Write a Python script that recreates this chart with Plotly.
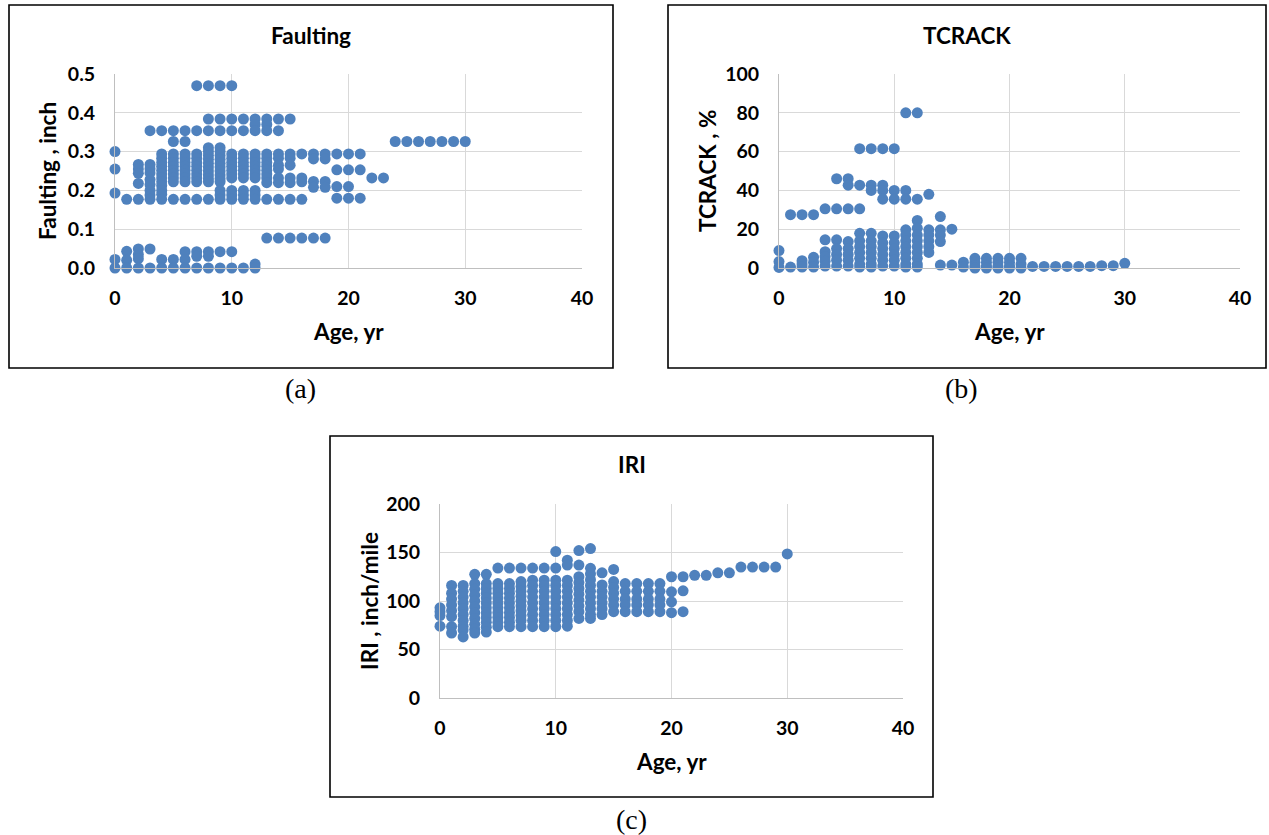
import plotly.graph_objects as go

W, H = 1269, 835

# ---------------- DATA ----------------
# each row: (age in years, list of observed values at that age)
faulting_rows = [
    (0, [0.30, 0.255, 0.193, 0.022, 0.0]),
    (1, [0.177, 0.043, 0.02, 0.0]),
    (2, [0.267, 0.255, 0.244, 0.218, 0.177, 0.049, 0.035, 0.024, 0.0]),
    (3, [0.354, 0.267, 0.256, 0.245, 0.228, 0.215, 0.20, 0.188, 0.177, 0.049, 0.0]),
    (4, [0.354, 0.294, 0.283, 0.272, 0.262, 0.252, 0.242, 0.232, 0.222, 0.212, 0.20, 0.19, 0.177, 0.022, 0.0]),
    (5, [0.354, 0.326, 0.294, 0.283, 0.272, 0.262, 0.252, 0.242, 0.232, 0.222, 0.177, 0.022, 0.0]),
    (6, [0.354, 0.326, 0.294, 0.283, 0.272, 0.262, 0.252, 0.242, 0.232, 0.222, 0.177, 0.042, 0.022, 0.0]),
    (7, [0.47, 0.354, 0.294, 0.283, 0.272, 0.262, 0.252, 0.242, 0.232, 0.222, 0.177, 0.042, 0.03, 0.0]),
    (8, [0.47, 0.384, 0.354, 0.31, 0.30, 0.29, 0.28, 0.27, 0.26, 0.25, 0.24, 0.23, 0.222, 0.177, 0.042, 0.03, 0.0]),
    (9, [0.47, 0.384, 0.354, 0.31, 0.30, 0.29, 0.28, 0.27, 0.26, 0.25, 0.24, 0.23, 0.222, 0.20, 0.188, 0.177, 0.042, 0.0]),
    (10, [0.47, 0.384, 0.354, 0.294, 0.283, 0.272, 0.262, 0.252, 0.242, 0.232, 0.20, 0.188, 0.177, 0.042, 0.0]),
    (11, [0.384, 0.354, 0.294, 0.283, 0.272, 0.262, 0.252, 0.242, 0.232, 0.20, 0.188, 0.177, 0.0]),
    (12, [0.384, 0.37, 0.354, 0.294, 0.283, 0.272, 0.262, 0.252, 0.242, 0.232, 0.20, 0.188, 0.177, 0.01, 0.0]),
    (13, [0.384, 0.37, 0.354, 0.294, 0.283, 0.272, 0.262, 0.252, 0.242, 0.232, 0.22, 0.177, 0.077]),
    (14, [0.384, 0.354, 0.294, 0.283, 0.265, 0.255, 0.232, 0.22, 0.177, 0.077]),
    (15, [0.384, 0.294, 0.283, 0.265, 0.232, 0.22, 0.177, 0.077]),
    (16, [0.294, 0.232, 0.222, 0.177, 0.077]),
    (17, [0.294, 0.281, 0.223, 0.208, 0.077]),
    (18, [0.294, 0.281, 0.223, 0.208, 0.077]),
    (19, [0.294, 0.253, 0.21, 0.18]),
    (20, [0.294, 0.253, 0.21, 0.18]),
    (21, [0.294, 0.253, 0.18]),
    (22, [0.232]),
    (23, [0.232]),
    (24, [0.326]), (25, [0.326]), (26, [0.326]), (27, [0.326]),
    (28, [0.326]), (29, [0.326]), (30, [0.326]),
]

tcrack_rows = [
    (0, [9, 3.3, 0.3]),
    (1, [27.5, 0.5]),
    (2, [27.5, 3.8, 2, 0.5]),
    (3, [27.5, 5.5, 3, 0.5]),
    (4, [30.5, 14.5, 8.4, 5.9, 3.5, 1]),
    (5, [46, 30.5, 14.5, 10, 7, 4, 1]),
    (6, [46, 42.7, 30.5, 13.6, 10, 7, 4, 1]),
    (7, [61.5, 42.7, 30.5, 17.9, 14, 11, 8, 5, 2, 0.5]),
    (8, [61.5, 42.7, 40, 17.9, 14, 11, 8, 5, 2, 0.5]),
    (9, [61.5, 42.7, 40, 35.5, 16.5, 13, 10, 7, 4, 1]),
    (10, [61.5, 40, 35.5, 16.5, 13, 10, 7, 4, 1]),
    (11, [80, 40, 35.5, 19.7, 17, 14, 11, 8, 5, 2, 0.5]),
    (12, [80, 35.5, 24.5, 20.5, 17, 14, 11, 8, 5, 2, 0.5]),
    (13, [38, 19.7, 17, 14, 11, 8]),
    (14, [26.5, 19.7, 17, 13.6, 1.5]),
    (15, [20, 1.5]),
    (16, [3, 0.5]),
    (17, [5, 3, 1, 0]),
    (18, [5, 3, 1, 0]),
    (19, [5, 3, 1, 0]),
    (20, [5, 3, 1, 0]),
    (21, [5, 2, 0]),
    (22, [0.8]), (23, [0.8]), (24, [0.8]), (25, [0.8]), (26, [0.8]), (27, [0.8]),
    (28, [1.2]), (29, [1.2]),
    (30, [2.4]),
]

iri_rows = [
    (0, [93, 89, 85, 74]),
    (1, [116, 108, 102, 96, 90, 84, 73.5, 67]),
    (2, [116, 110, 104, 98, 92, 86, 80, 74, 70, 63]),
    (3, [127.5, 118, 112, 106, 100, 94, 88, 82, 76, 71, 67]),
    (4, [127.5, 118, 113, 108, 103, 98, 93, 88, 83, 78, 73, 68]),
    (5, [134, 118, 113, 108, 103, 98, 93, 88, 83, 78, 73.5]),
    (6, [134, 118, 113, 108, 103, 98, 93, 88, 83, 78, 73.5]),
    (7, [134, 120, 115, 110, 105, 100, 95, 90, 85, 80, 73.5]),
    (8, [134, 121.5, 116, 110, 104, 98, 92, 86, 80, 73.5]),
    (9, [134, 121.5, 116, 110, 104, 98, 92, 86, 80, 73.5]),
    (10, [151, 134, 121.5, 116, 110, 104, 98, 92, 86, 80, 73.5]),
    (11, [142, 137, 121.5, 116, 110, 104, 98, 92, 86, 80, 74]),
    (12, [152, 137, 125, 119, 113, 107, 101, 95, 89, 82]),
    (13, [154, 133.7, 128, 122, 116, 110, 104, 98, 92, 86, 82]),
    (14, [129, 116.5, 110, 104, 98, 92, 86]),
    (15, [132.6, 120, 114, 108, 102, 96, 89]),
    (16, [118, 110, 102, 96, 89]),
    (17, [118, 110, 102, 96, 89]),
    (18, [118, 110, 102, 96, 89]),
    (19, [118, 110, 102, 96, 89]),
    (20, [125, 109.5, 99, 88]),
    (21, [125, 110.5, 89]),
    (22, [126.5]), (23, [126.5]),
    (24, [129]), (25, [129]),
    (26, [135]), (27, [135]), (28, [135]), (29, [135]),
    (30, [148.5]),
]

age_ticks = [0, 10, 20, 30, 40]
faulting_ticks = [0.0, 0.1, 0.2, 0.3, 0.4, 0.5]
tcrack_ticks = [0, 20, 40, 60, 80, 100]
iri_ticks = [0, 50, 100, 150, 200]


def flatten(rows):
    xs, ys = [], []
    for age, vals in rows:
        for v in vals:
            xs.append(age)
            ys.append(v)
    return xs, ys


# ---------------- LAYOUT HELPERS ----------------
def px_x(p):
    return p / W


def px_y(p):
    return 1 - p / H


BLUE = "#4F81BD"
FONT = "Lato"
GRID = "#D9D9D9"
AXLINE = "#BFBFBF"
TICK_SIZE = 19.5
TITLE_SIZE = 22.5

panels = [
    dict(area=(115, 74, 582, 268), box=(9, 5, 613, 368), title="Faulting",
         ytitle="Faulting , inch", rows=faulting_rows, yticks=faulting_ticks,
         fmt=".1f", label="(a)", lab=(300, 388), ytx=48),
    dict(area=(779, 74, 1240, 268), box=(668, 5, 1266, 368), title="TCRACK",
         ytitle="TCRACK , %", rows=tcrack_rows, yticks=tcrack_ticks,
         fmt="d", label="(b)", lab=(961, 388), ytx=708),
    dict(area=(440, 504, 903, 698), box=(330, 436, 933, 797), title="IRI",
         ytitle="IRI , inch/mile", rows=iri_rows, yticks=iri_ticks,
         fmt="d", label="(c)", lab=(631, 819), ytx=369),
]

fig = go.Figure()
layout = dict(
    width=W, height=H, margin=dict(l=0, r=0, t=0, b=0, autoexpand=False), autosize=False,
    paper_bgcolor="white", plot_bgcolor="white", showlegend=False,
    font=dict(family=FONT, color="black"),
)
annotations = []
shapes = []

for i, p in enumerate(panels):
    n = "" if i == 0 else str(i + 1)
    xa, ya = "xaxis" + n, "yaxis" + n
    l, t, r, b = p["area"]
    xs, ys = flatten(p["rows"])
    fig.add_trace(go.Scatter(
        x=xs, y=ys, mode="markers", xaxis="x" + n, yaxis="y" + n,
        marker=dict(size=11, color=BLUE, line=dict(width=0)),
        cliponaxis=False, hoverinfo="skip",
    ))
    layout[xa] = dict(
        domain=[px_x(l), px_x(r)], anchor="y" + n, range=[0, 40],
        tickvals=age_ticks, showgrid=True, gridcolor=GRID, gridwidth=1,
        showline=True, linecolor=AXLINE, linewidth=1, zeroline=False,
        ticks="", ticklabelstandoff=13, automargin=False,
        tickfont=dict(family=FONT, size=TICK_SIZE, color="black", weight="bold"),
        fixedrange=True,
    )
    layout[ya] = dict(
        domain=[px_y(b), px_y(t)], anchor="x" + n,
        range=[p["yticks"][0], p["yticks"][-1]],
        tickvals=p["yticks"], tickformat=p["fmt"],
        showgrid=True, gridcolor=GRID, gridwidth=1,
        showline=True, linecolor=AXLINE, linewidth=1, zeroline=False,
        ticks="", ticklabelstandoff=15, automargin=False,
        tickfont=dict(family=FONT, size=TICK_SIZE, color="black", weight="bold"),
        fixedrange=True,
    )
    bl, bt, br, bb = p["box"]
    shapes.append(dict(type="rect", xref="paper", yref="paper",
                       x0=px_x(bl), x1=px_x(br), y0=px_y(bb), y1=px_y(bt),
                       line=dict(color="black", width=1.6)))
    cx_box = (bl + br) / 2
    annotations.append(dict(text="<b>%s</b>" % p["title"], x=px_x(cx_box), y=px_y(t - 39),
                            xref="paper", yref="paper", showarrow=False,
                            xanchor="center", yanchor="middle",
                            font=dict(family=FONT, size=TITLE_SIZE, color="black")))
    annotations.append(dict(text="<b>Age, yr</b>", x=px_x((l + r) / 2), y=px_y(b + 63),
                            xref="paper", yref="paper", showarrow=False,
                            xanchor="center", yanchor="middle",
                            font=dict(family=FONT, size=TITLE_SIZE, color="black")))
    annotations.append(dict(text="<b>%s</b>" % p["ytitle"], x=px_x(p["ytx"]), y=px_y((t + b) / 2),
                            xref="paper", yref="paper", showarrow=False, textangle=-90,
                            xanchor="center", yanchor="middle",
                            font=dict(family=FONT, size=TITLE_SIZE, color="black")))
    lx, ly = p["lab"]
    annotations.append(dict(text=p["label"], x=px_x(lx), y=px_y(ly),
                            xref="paper", yref="paper", showarrow=False,
                            xanchor="center", yanchor="middle",
                            font=dict(family="Liberation Serif", size=28, color="black")))

layout["annotations"] = annotations
layout["shapes"] = shapes
fig.update_layout(**layout)
fig.write_html(
    "out.html",
    config={"responsive": False, "displayModeBar": False},
    post_script="document.body.style.margin='0';document.body.style.overflow='hidden';",
)
